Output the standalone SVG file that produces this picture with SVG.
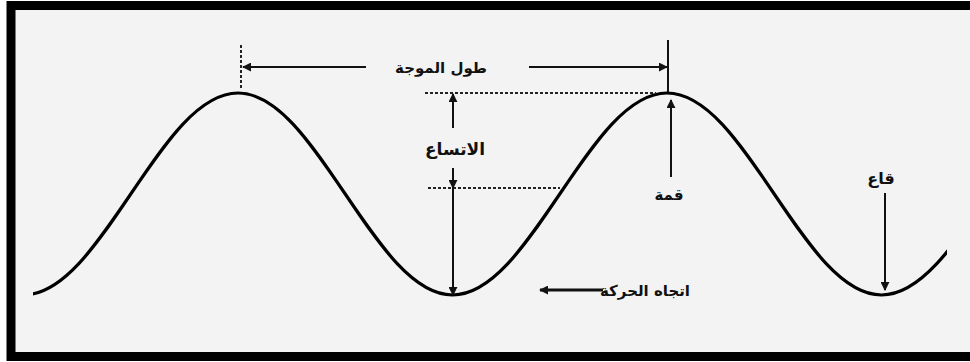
<svg xmlns="http://www.w3.org/2000/svg" width="970" height="362" viewBox="0 0 970 362">
<style>
.lbl{font-family:"DejaVu Sans",sans-serif;font-weight:bold;font-size:15px;fill:#111;text-anchor:middle}
.ln{stroke:#111;stroke-width:2;fill:none}
.dot{stroke:#222;stroke-width:2;stroke-dasharray:3 2;fill:none}
</style>
<defs>
<marker id="ahs" viewBox="0 0 10 10" refX="9" refY="5" markerWidth="9" markerHeight="9" orient="auto-start-reverse" markerUnits="userSpaceOnUse">
<path d="M0,0 L10,5 L0,10 z" fill="#111"/>
</marker>
<clipPath id="wc"><rect x="33" y="0" width="914" height="362"/></clipPath>
</defs>
<rect width="970" height="362" fill="#fff"/>
<rect x="11" y="5.5" width="975" height="351" fill="#f3f3f3" stroke="#000" stroke-width="9"/>
<g id="wave" clip-path="url(#wc)">
<path d="M23.5,295 C62.32,295 95.77,245.74 130.75,194 C165.73,142.26 199.18,93 238,93 C276.82,93 310.27,142.26 345.25,194 C380.23,245.74 413.68,295 452.5,295 C491.32,295 524.77,245.74 559.75,194 C594.73,142.26 628.18,93 667,93 C705.82,93 739.27,142.26 774.25,194 C809.23,245.74 842.68,295 881.5,295 C920.32,295 953.77,245.74 988.75,194" fill="none" stroke="#000" stroke-width="3.2" stroke-linecap="round"/>
</g>
<g id="connectors">
<line class="dot" x1="241" y1="45" x2="241" y2="88"/>
<line class="ln" x1="668" y1="40" x2="668" y2="92"/>
<line class="ln" x1="366" y1="67" x2="243" y2="67" marker-end="url(#ahs)"/>
<line class="ln" x1="529" y1="67" x2="667" y2="67" marker-end="url(#ahs)"/>
<line class="dot" x1="425" y1="93" x2="656" y2="93"/>
<line class="dot" x1="428" y1="188" x2="560" y2="188"/>
<line class="ln" x1="453" y1="128" x2="453" y2="94" marker-end="url(#ahs)"/>
<line class="ln" x1="453" y1="168" x2="453" y2="188" marker-end="url(#ahs)"/>
<line class="ln" x1="453" y1="186" x2="453" y2="295" marker-end="url(#ahs)"/>
<line class="ln" x1="671" y1="177" x2="671" y2="100" marker-end="url(#ahs)"/>
<line class="ln" x1="885" y1="193" x2="885" y2="290" marker-end="url(#ahs)"/>
<line x1="603" y1="290" x2="540" y2="290" stroke="#111" stroke-width="3" marker-end="url(#ahs)"/>
</g>
<g id="label-wavelength"><text class="lbl" x="441" y="73">طول الموجة</text></g>
<g id="label-amplitude"><text class="lbl" x="455" y="155" style="font-size:17px">الاتساع</text></g>
<g id="label-crest"><text class="lbl" x="669" y="200">قمة</text></g>
<g id="label-trough"><text class="lbl" x="881" y="184" style="font-size:16px">قاع</text></g>
<g id="label-direction"><text class="lbl" x="645" y="296">اتجاه الحركة</text></g>
</svg>
